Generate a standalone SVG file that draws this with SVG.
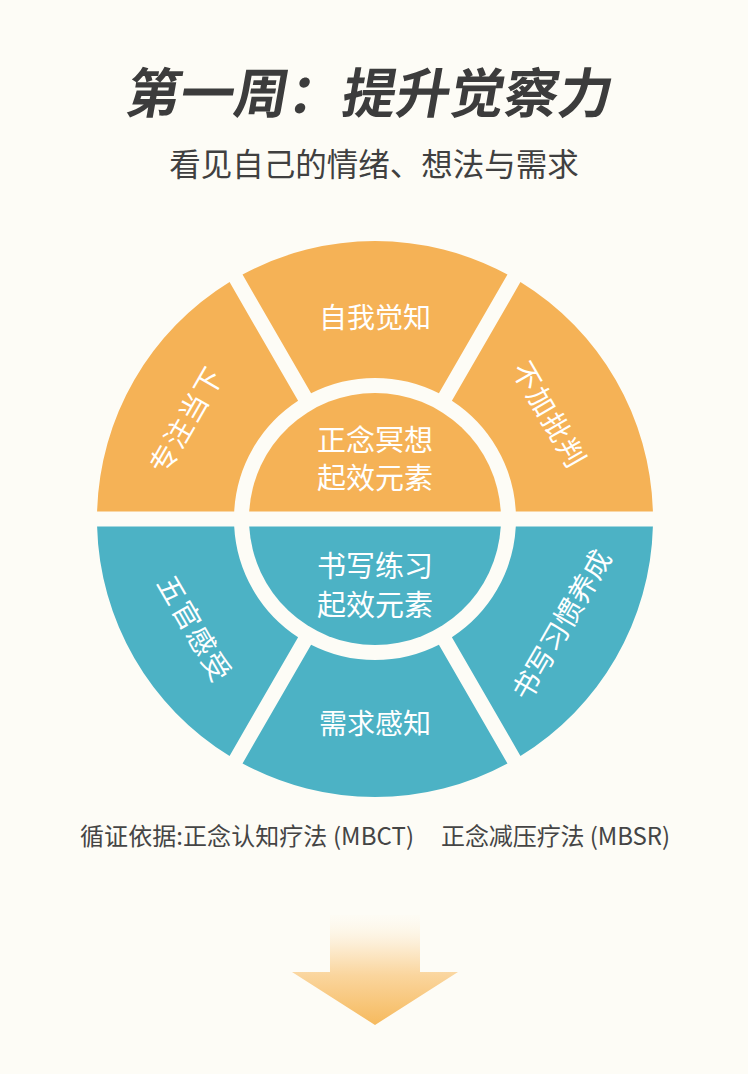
<svg xmlns="http://www.w3.org/2000/svg" width="748" height="1074" viewBox="0 0 748 1074">
  <defs>
    <style>
      .bg { fill: #FDFCF6; }
      .orange { fill: #F5B256; }
      .teal { fill: #4CB2C5; }
      .lbl { font-family: "Noto Sans CJK SC", "Noto Sans", sans-serif; fill: #FFFFFF; font-size: 28px; text-anchor: middle; dominant-baseline: central; }
      .inner { font-size: 29px; }
      .title { font-family: "Noto Sans CJK SC", sans-serif; font-weight: 700; font-size: 54px; fill: #3C3C3C; text-anchor: middle; }
      .sub { font-family: "Noto Sans CJK SC", sans-serif; font-size: 31.5px; fill: #404040; text-anchor: middle; }
      .note { font-family: "Noto Sans CJK SC", sans-serif; font-size: 24px; fill: #454545; }
    </style>
    <linearGradient id="arrowGrad" x1="0" y1="915" x2="0" y2="1025" gradientUnits="userSpaceOnUse">
      <stop offset="0" stop-color="#FEFAF0" stop-opacity="0.3"/>
      <stop offset="0.3" stop-color="#FCEBCF"/>
      <stop offset="0.55" stop-color="#FAD59D"/>
      <stop offset="1" stop-color="#F6BA5E"/>
    </linearGradient>
  </defs>

  <rect class="bg" x="0" y="0" width="748" height="1074"/>

  <g id="title">
    <text class="title" x="370" y="113" transform="translate(370 95) skewX(-10) translate(-370 -95)">第一周：提升觉察力</text>
    <text class="sub" x="374" y="176">看见自己的情绪、想法与需求</text>
  </g>

  <g id="node-mindfulness-core">
    <path class="orange" d="M 249.22 511.5 A 126 126 0 0 1 500.78 511.5 Z"/>
    <text class="lbl inner" x="375" y="438">正念冥想</text>
    <text class="lbl inner" x="375" y="476">起效元素</text>
  </g>

  <g id="node-writing-core">
    <path class="teal" d="M 249.22 526.5 A 126 126 0 0 0 500.78 526.5 Z"/>
    <text class="lbl inner" x="375" y="564">书写练习</text>
    <text class="lbl inner" x="375" y="603">起效元素</text>
  </g>

  <g id="node-self-awareness">
    <path class="orange" d="M 507.45 274.58 A 278 278 0 0 0 242.55 274.58 L 311.10 393.31 A 141 141 0 0 1 438.90 393.31 Z"/>
    <text class="lbl" x="375" y="316">自我觉知</text>
  </g>

  <g id="node-non-judging">
    <path class="orange" d="M 652.90 511.5 A 278 278 0 0 0 520.44 282.08 L 451.90 400.81 A 141 141 0 0 1 515.80 511.5 Z"/>
    <text class="lbl" x="551" y="414" letter-spacing="1.5" transform="rotate(60 551 414)">不加批判</text>
  </g>

  <g id="node-present-focus">
    <path class="orange" d="M 229.56 282.08 A 278 278 0 0 0 97.10 511.5 L 234.20 511.5 A 141 141 0 0 1 298.10 400.81 Z"/>
    <text class="lbl" x="185" y="419" letter-spacing="1.5" transform="rotate(-60 185 419)">专注当下</text>
  </g>

  <g id="node-five-senses">
    <path class="teal" d="M 97.10 526.5 A 278 278 0 0 0 229.56 755.92 L 298.10 637.19 A 141 141 0 0 1 234.20 526.5 Z"/>
    <text class="lbl" x="196" y="628" letter-spacing="1.5" transform="rotate(60 196 628)">五官感受</text>
  </g>

  <g id="node-needs-awareness">
    <path class="teal" d="M 242.55 763.42 A 278 278 0 0 0 507.45 763.42 L 438.90 644.69 A 141 141 0 0 1 311.10 644.69 Z"/>
    <text class="lbl" x="375" y="722">需求感知</text>
  </g>

  <g id="node-writing-habit">
    <path class="teal" d="M 520.44 755.92 A 278 278 0 0 0 652.90 526.5 L 515.80 526.5 A 141 141 0 0 1 451.90 637.19 Z"/>
    <text class="lbl" x="560" y="624" transform="rotate(-60 560 624)">书写习惯养成</text>
  </g>

  <g id="connectors"></g>

  <g id="evidence">
    <text class="note" x="80" y="845" textLength="334" lengthAdjust="spacing">循证依据:正念认知疗法 (MBCT)</text>
    <text class="note" x="441" y="845" textLength="229" lengthAdjust="spacing">正念减压疗法 (MBSR)</text>
  </g>

  <g id="arrow">
    <polygon fill="url(#arrowGrad)" points="330,915 420,915 420,972 458,972 375,1025 292,972 330,972"/>
  </g>
</svg>
